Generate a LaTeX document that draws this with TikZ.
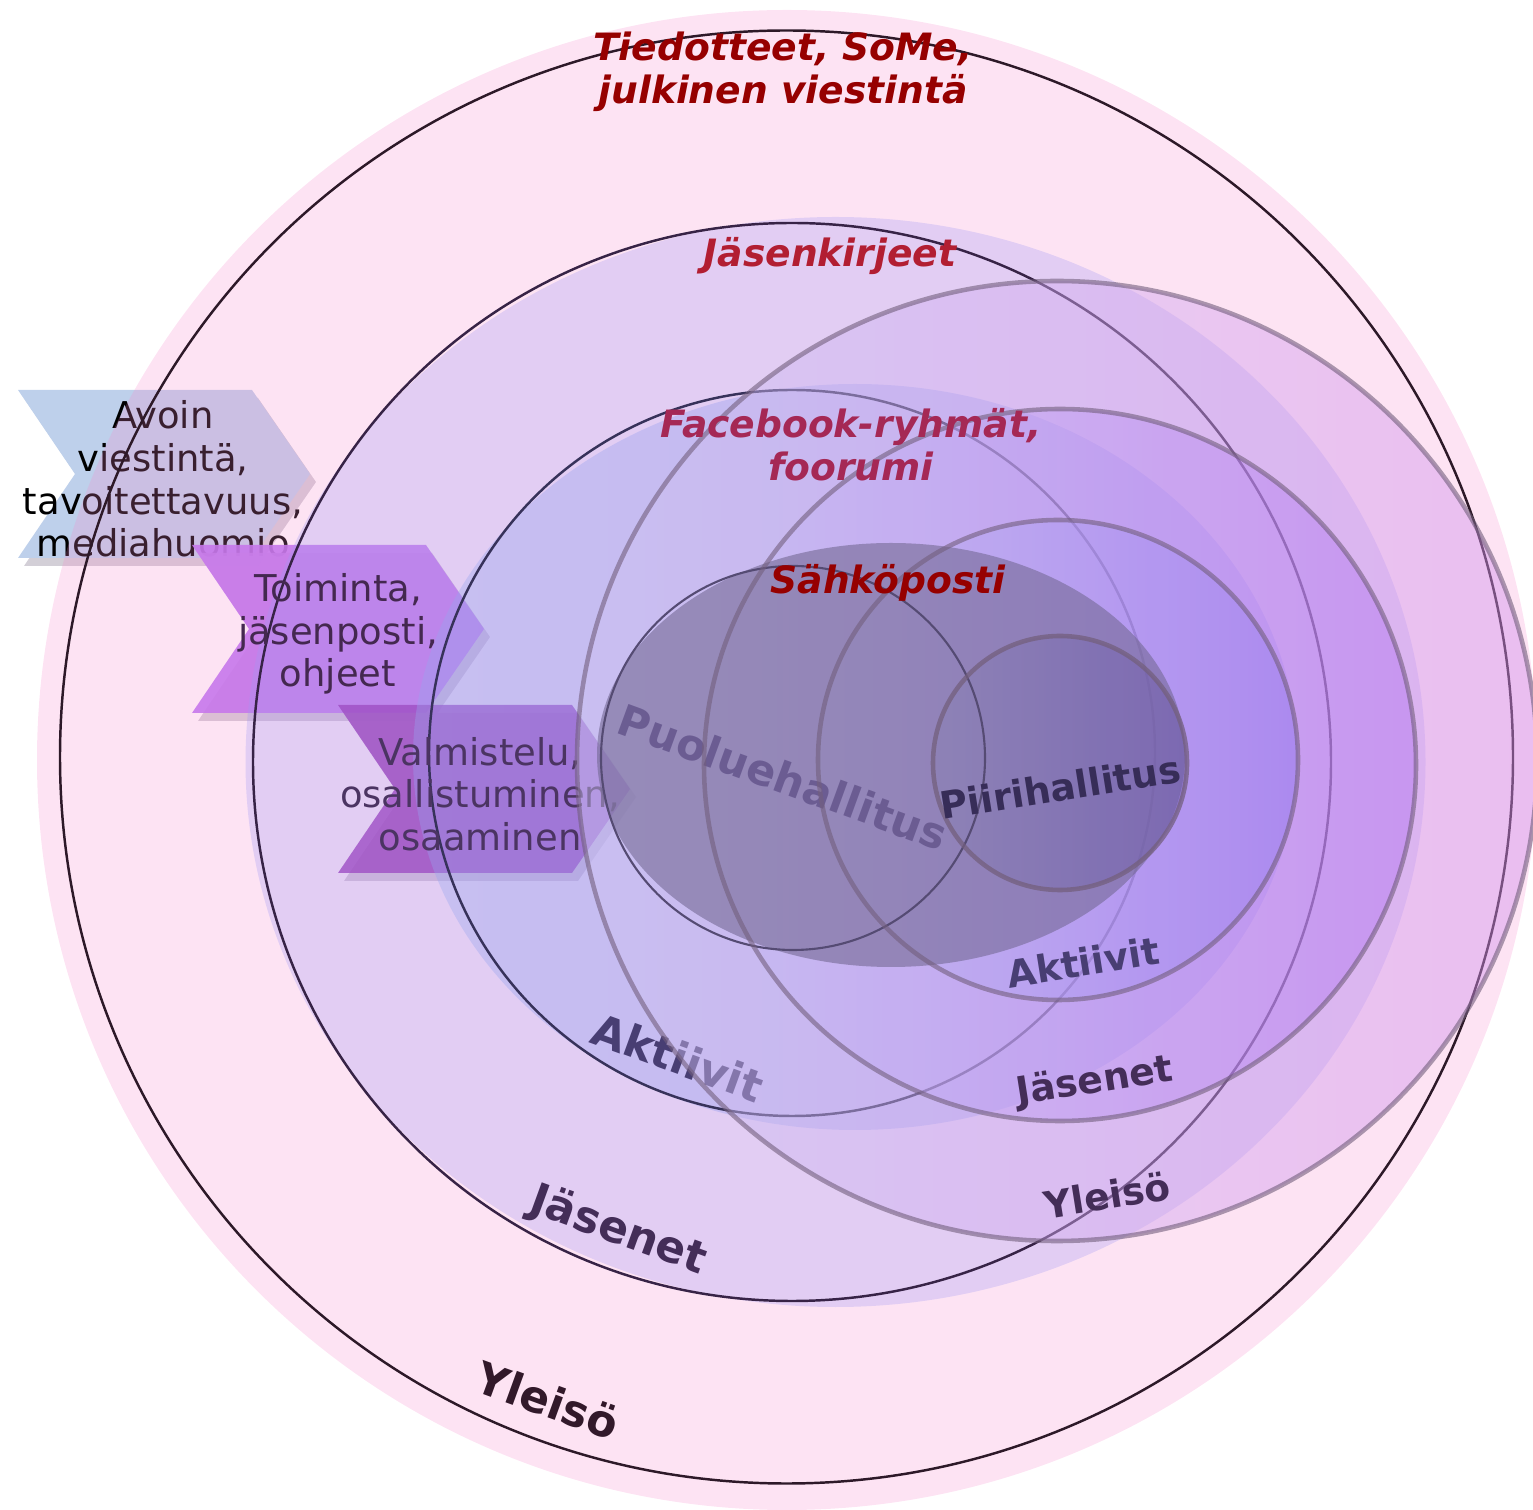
\documentclass[tikz,border=0pt]{standalone}
\usepackage{fontspec}
\setmainfont{DejaVu Sans}
\usetikzlibrary{fadings}
\definecolor{pinkA}{RGB}{247,136,204}
\definecolor{lavA}{RGB}{163,153,243}
\definecolor{blueL}{RGB}{151,166,240}
\definecolor{blueR}{RGB}{132,132,240}
\definecolor{bigL}{RGB}{205,195,242}
\definecolor{bigR}{RGB}{212,145,236}
\definecolor{secL}{RGB}{198,188,242}
\definecolor{secR}{RGB}{177,114,240}
\definecolor{thiL}{RGB}{196,186,242}
\definecolor{thiR}{RGB}{150,125,240}
\definecolor{fouL}{RGB}{140,130,180}
\definecolor{fouR}{RGB}{105,85,170}
\definecolor{ellC}{RGB}{116,105,148}
\definecolor{grayS}{RGB}{115,95,125}
\definecolor{lineA}{RGB}{45,25,40}
\definecolor{lineB}{RGB}{55,35,70}
\definecolor{lineC}{RGB}{55,50,90}
\definecolor{lineD}{RGB}{85,75,115}
\definecolor{chevA}{RGB}{190,208,235}
\definecolor{chevB}{RGB}{185,115,245}
\definecolor{chevC}{RGB}{130,20,170}
\definecolor{shadowC}{RGB}{200,195,205}
\definecolor{redD}{RGB}{150,0,0}
\definecolor{redJ}{RGB}{178,30,50}
\definecolor{redF}{RGB}{165,40,85}
\definecolor{txAkt}{RGB}{72,62,115}
\definecolor{txJas}{RGB}{68,45,88}
\definecolor{txYle}{RGB}{50,25,42}
\definecolor{txPiiri}{RGB}{55,45,88}
\definecolor{txPuol}{RGB}{100,85,140}
\definecolor{txChB}{RGB}{68,40,80}
\definecolor{txChC}{RGB}{75,52,98}
\begin{document}
\begin{tikzpicture}[x=0.01cm,y=-0.01cm,
  chevtext/.style={align=center,inner sep=0pt,font=\fontsize{10.5}{12.1}\selectfont,text=black},
  ital/.style={align=center,inner sep=0pt,font=\bfseries\itshape\fontsize{10.7}{12.2}\selectfont},
  lblS/.style={inner sep=0pt,font=\bfseries\fontsize{10.7}{12.2}\selectfont},
  lblL/.style={inner sep=0pt,font=\bfseries\fontsize{12.5}{14}\selectfont},
  graystroke/.style={draw=grayS,draw opacity=0.6,line width=1.3pt},
  thinline/.style={line width=0.7pt}]
\useasboundingbox (0,0) rectangle (1533,1510);
\clip (0,0) rectangle (1533,1510);
% chevrons with shadows
\fill[shadowC,opacity=0.8] (24,398) -- (258,398) -- (316,482) -- (258,566) -- (24,566) -- (81,482) -- cycle;
\fill[chevA] (18,390) -- (252,390) -- (310,474) -- (252,558) -- (18,558) -- (75,474) -- cycle;
\node[chevtext] (t1) at (163,479) {Avoin\\viestintä,\\tavoitettavuus,\\mediahuomio};
\fill[shadowC,opacity=0.8] (198,553) -- (432,553) -- (490,637) -- (432,721) -- (198,721) -- (255,637) -- cycle;
\fill[chevB,opacity=0.9] (192,545) -- (426,545) -- (484,629) -- (426,713) -- (192,713) -- (249,629) -- cycle;
\fill[shadowC,opacity=0.8] (344,713) -- (578,713) -- (636,797) -- (578,881) -- (344,881) -- (401,797) -- cycle;
\fill[chevC,opacity=0.8] (338,705) -- (572,705) -- (630,789) -- (572,873) -- (338,873) -- (395,789) -- cycle;
% discs
\fill[pinkA,fill opacity=0.23] (787,760) circle [radius=750];
\draw[lineA,thinline] (786.5,757) circle [radius=726.5];
\fill[lavA,fill opacity=0.3] (835.5,762) ellipse [x radius=590, y radius=545];
\draw[lineB,thinline] (792,762) circle [radius=539];
\shade[left color=blueL,right color=blueR,fill opacity=0.35] (855,757) ellipse [x radius=442, y radius=373];
\draw[lineC,thinline] (792,753) circle [radius=363];
% chevron texts over the discs
\node[chevtext,text=txChB] (t2) at (338,634) {Toiminta,\\jäsenposti,\\ohjeet};
\node[chevtext,text=txChC] (t3) at (480,794) {Valmistelu,\\osallistuminen,\\osaaminen};
% left labels
\node[lblL,text=txAkt,rotate=-20] (aktL) at (678,1057) {Aktiivit};
\node[lblL,text=txJas,rotate=-20] (jasL) at (618,1231) {Jäsenet};
\node[lblL,text=txYle,rotate=-20] (yleL) at (548,1400) {Yleisö};
% right circles fills
\shade[left color=bigL,right color=bigR,fill opacity=0.45] (1057,761) circle [radius=480];
\shade[left color=secL,right color=secR,fill opacity=0.45] (1060,765) circle [radius=356];
\shade[left color=thiL,right color=thiR,fill opacity=0.45] (1058,760) circle [radius=240];
% dark ellipse
\fill[ellC,fill opacity=0.6] (891,755) ellipse [x radius=294, y radius=212];
\node[inner sep=0pt,font=\bfseries\fontsize{12.2}{14}\selectfont,text=txPuol,text opacity=0.85,rotate=-20] (puol) at (783,777) {Puoluehallitus};
\shade[left color=fouL,right color=fouR,fill opacity=0.45] (1060,763) circle [radius=127];
\draw[lineD,line width=0.6pt] (793,758) circle [radius=192];
% right circle strokes
\draw[graystroke] (1057,761) circle [radius=480];
\draw[graystroke] (1060,765) circle [radius=356];
\draw[graystroke] (1058,760) circle [radius=240];
\draw[graystroke,draw opacity=0.75] (1060,763) circle [radius=127];
% right labels
\node[lblS,text=txPiiri,rotate=9] (piiri) at (1060,787) {Piirihallitus};
\node[lblS,text=txAkt,rotate=9] (aktR) at (1083,962) {Aktiivit};
\node[lblS,text=txJas,rotate=9] (jasR) at (1095,1082) {Jäsenet};
\node[lblS,text=txJas,rotate=9] (yleR) at (1107,1195) {Yleisö};
% italic channel labels
\node[ital,text=redD] (tied) at (783,72) {Tiedotteet, SoMe,\\julkinen viestintä};
\node[ital,text=redJ] (jkirj) at (830,256) {Jäsenkirjeet};
\node[ital,text=redF] (fb) at (851,445) {Facebook-ryhmät,\\foorumi};
\node[ital,text=redD] (sposti) at (888,583) {Sähköposti};
\end{tikzpicture}
\end{document}
